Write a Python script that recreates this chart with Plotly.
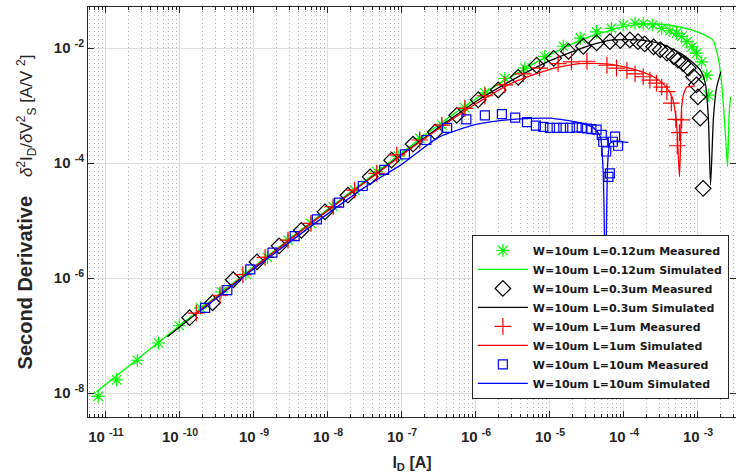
import plotly.graph_objects as go

# ---- data (log10 of I_D [A], log10 of second derivative) ----
g_meas_x = [-11.105, -10.856, -10.577, -10.29, -10.01, -9.72, -9.44, -9.11, -8.82, -8.54, -8.23, -7.93, -7.64, -7.34, -7.05, -6.76, -6.46, -6.15, -5.88, -5.61, -5.34, -5.07, -4.82, -4.59, -4.37, -4.17, -4.01, -3.85, -3.74, -3.61, -3.49, -3.38, -3.29, -3.22, -3.15, -3.08, -3.02, -2.95, -2.88, -2.86]
g_meas_y = [-8.06, -7.77, -7.43, -7.13, -6.83, -6.52, -6.24, -5.93, -5.64, -5.34, -5.05, -4.76, -4.47, -4.15, -3.88, -3.57, -3.34, -3.04, -2.78, -2.53, -2.35, -2.15, -1.97, -1.83, -1.72, -1.66, -1.60, -1.57, -1.58, -1.60, -1.66, -1.70, -1.74, -1.80, -1.89, -1.98, -2.09, -2.24, -2.47, -2.82]
g_sim_x = [-11.13, -10.0, -9.0, -8.0, -7.0, -6.5, -6.0, -5.5, -5.0, -4.5, -4.0, -3.7, -3.4, -3.1, -2.9, -2.80, -2.73, -2.68, -2.63, -2.60, -2.58, -2.56]
g_sim_y = [-7.98, -6.82, -5.80, -4.80, -3.82, -3.33, -2.88, -2.48, -2.12, -1.82, -1.63, -1.58, -1.60, -1.68, -1.78, -1.86, -2.15, -2.61, -3.48, -4.06, -3.19, -2.85]

k_meas_x = [-9.87, -9.56, -9.28, -8.96, -8.66, -8.36, -8.04, -7.73, -7.43, -7.14, -6.85, -6.55, -6.26, -5.97, -5.70, -5.43, -5.18, -4.95, -4.75, -4.55, -4.37, -4.19, -4.05, -3.92, -3.81, -3.72, -3.60, -3.51, -3.42, -3.33, -3.27, -3.20, -3.13, -3.06, -3.02, -3.00, -2.97, -2.93]
k_meas_y = [-6.69, -6.43, -6.03, -5.72, -5.44, -5.17, -4.85, -4.56, -4.24, -3.95, -3.67, -3.46, -3.17, -2.90, -2.73, -2.51, -2.30, -2.18, -2.06, -1.97, -1.91, -1.89, -1.87, -1.86, -1.89, -1.93, -1.98, -2.03, -2.09, -2.15, -2.21, -2.27, -2.35, -2.50, -2.64, -2.85, -3.22, -4.44]
k_sim_x = [-10.17, -9.0, -8.0, -7.0, -6.5, -6.0, -5.5, -5.0, -4.5, -4.15, -3.8, -3.5, -3.24, -3.1, -2.97, -2.90, -2.86, -2.83, -2.79, -2.75, -2.69]
k_sim_y = [-7.02, -5.82, -4.82, -3.85, -3.38, -2.93, -2.55, -2.22, -1.97, -1.86, -1.86, -1.93, -2.09, -2.22, -2.38, -2.62, -3.2, -4.38, -3.2, -2.7, -2.41]

r_meas_x = [-9.78, -9.46, -9.15, -8.85, -8.54, -8.23, -7.93, -7.64, -7.34, -7.07, -6.76, -6.46, -6.15, -5.88, -5.61, -5.36, -5.14, -4.89, -4.71, -4.50, -4.23, -4.10, -3.96, -3.85, -3.74, -3.65, -3.56, -3.49, -3.42, -3.36, -3.30, -3.25, -3.28, -3.22]
r_meas_y = [-6.61, -6.30, -5.94, -5.64, -5.34, -5.05, -4.76, -4.47, -4.18, -3.86, -3.60, -3.34, -3.05, -2.83, -2.64, -2.45, -2.35, -2.27, -2.24, -2.23, -2.30, -2.35, -2.39, -2.45, -2.50, -2.56, -2.61, -2.68, -2.76, -2.96, -3.24, -3.47, -3.70, -3.25]
r_sim_x = [-9.8, -9.0, -8.0, -7.0, -6.5, -6.0, -5.5, -5.0, -4.6, -4.2, -3.9, -3.6, -3.45, -3.35, -3.29, -3.25, -3.22, -3.19, -3.15, -3.10, -3.04]
r_sim_y = [-6.63, -5.82, -4.82, -3.86, -3.40, -2.97, -2.60, -2.37, -2.27, -2.28, -2.36, -2.50, -2.65, -2.85, -3.3, -4.24, -3.02, -2.79, -2.68, -2.67, -2.66]

b_meas_x = [-9.66, -9.36, -9.05, -8.75, -8.45, -8.15, -7.85, -7.53, -7.24, -6.96, -6.67, -6.39, -6.13, -5.88, -5.65, -5.47, -5.31, -5.19, -5.09, -5.00, -4.91, -4.82, -4.73, -4.64, -4.57, -4.50, -4.44, -4.37, -4.30, -4.28, -4.24, -4.19, -4.21, -4.15, -4.12, -4.08]
b_meas_y = [-6.52, -6.21, -5.85, -5.56, -5.27, -4.98, -4.69, -4.40, -4.12, -3.85, -3.60, -3.39, -3.24, -3.17, -3.15, -3.21, -3.29, -3.35, -3.37, -3.39, -3.39, -3.39, -3.39, -3.38, -3.39, -3.40, -3.41, -3.42, -3.51, -3.63, -3.80, -4.18, -4.24, -3.63, -3.54, -3.70]
b_sim_x = [-9.7, -9.0, -8.0, -7.5, -7.0, -6.5, -6.0, -5.5, -5.0, -4.6, -4.42, -4.32, -4.28, -4.25, -4.22, -4.19, -4.14, -3.94]
b_sim_y = [-6.55, -5.84, -4.88, -4.42, -4.02, -3.55, -3.33, -3.24, -3.22, -3.30, -3.38, -3.54, -4.2, -6.2, -4.0, -3.66, -3.63, -3.64]

series_names = [
    "W=10um L=0.12um Measured", "W=10um L=0.12um Simulated",
    "W=10um L=0.3um Measured", "W=10um L=0.3um Simulated",
    "W=10um L=1um Measured", "W=10um L=1um Simulated",
    "W=10um L=10um Measured", "W=10um L=10um Simulated",
]

x_tick_vals = [1e-11, 1e-10, 1e-9, 1e-8, 1e-7, 1e-6, 1e-5, 1e-4, 1e-3]
x_tick_text = ["10\u00a0<sup>-11</sup>", "10\u00a0<sup>-10</sup>", "10\u00a0<sup>-9</sup>", "10\u00a0<sup>-8</sup>",
               "10\u00a0<sup>-7</sup>", "10\u00a0<sup>-6</sup>", "10\u00a0<sup>-5</sup>", "10\u00a0<sup>-4</sup>",
               "10\u00a0<sup>-3</sup>"]
y_tick_vals = [1e-8, 1e-6, 1e-4, 1e-2]
y_tick_text = ["10\u00a0<sup>-8</sup>", "10\u00a0<sup>-6</sup>", "10\u00a0<sup>-4</sup>", "10\u00a0<sup>-2</sup>"]


def p(v):
    return [10 ** t for t in v]


GREEN, BLACK, RED, BLUE = "#00ff00", "#000000", "#ff0000", "#0000ff"

fig = go.Figure()
fig.add_trace(go.Scatter(x=p(g_meas_x), y=p(g_meas_y), mode="markers", name=series_names[0],
                         marker=dict(symbol="asterisk-open", size=11, color=GREEN, line=dict(color=GREEN, width=1.2))))
fig.add_trace(go.Scatter(x=p(g_sim_x), y=p(g_sim_y), mode="lines", name=series_names[1],
                         line=dict(color=GREEN, width=1.3, shape="spline", smoothing=0.6)))
fig.add_trace(go.Scatter(x=p(k_meas_x), y=p(k_meas_y), mode="markers", name=series_names[2],
                         marker=dict(symbol="diamond-open", size=12, color=BLACK, line=dict(color=BLACK, width=1.2))))
fig.add_trace(go.Scatter(x=p(k_sim_x), y=p(k_sim_y), mode="lines", name=series_names[3],
                         line=dict(color=BLACK, width=1.3, shape="spline", smoothing=0.6)))
fig.add_trace(go.Scatter(x=p(r_meas_x), y=p(r_meas_y), mode="markers", name=series_names[4],
                         marker=dict(symbol="cross-thin-open", size=12, color=RED, line=dict(color=RED, width=1.2))))
fig.add_trace(go.Scatter(x=p(r_sim_x), y=p(r_sim_y), mode="lines", name=series_names[5],
                         line=dict(color=RED, width=1.3, shape="spline", smoothing=0.6)))
fig.add_trace(go.Scatter(x=p(b_meas_x), y=p(b_meas_y), mode="markers", name=series_names[6],
                         marker=dict(symbol="square-open", size=9, color=BLUE, line=dict(color=BLUE, width=1.2))))
fig.add_trace(go.Scatter(x=p(b_sim_x), y=p(b_sim_y), mode="lines", name=series_names[7],
                         line=dict(color=BLUE, width=1.3, shape="spline", smoothing=0.6)))

AX = "#262626"
fig.update_layout(
    width=736, height=474,
    margin=dict(l=88, r=0, t=7, b=57),
    paper_bgcolor="white", plot_bgcolor="white",
    font=dict(family="Liberation Sans, Arial, sans-serif", color=AX, size=14),
    showlegend=True,
    legend=dict(x=0.989, y=0.044, xanchor="right", yanchor="bottom",
                bgcolor="white", bordercolor="#262626", borderwidth=1,
                font=dict(family="DejaVu Sans, sans-serif", size=11, weight="bold", color="#1a1a1a"),
                itemwidth=50, tracegroupgap=0),
)
fig.update_xaxes(
    type="log", range=[-11.243, -2.486], automargin=False,
    tickvals=x_tick_vals, ticktext=x_tick_text,
    tickfont=dict(size=15, weight="bold"), ticklabelstandoff=6,
    ticks="inside", ticklen=6, tickcolor=AX, showline=True, linecolor=AX, linewidth=1, mirror="ticks",
    showgrid=True, gridcolor="#dddddd", gridwidth=1, zeroline=False,
    minor=dict(dtick="D1", ticks="inside", ticklen=3, tickcolor=AX, showgrid=True,
               gridcolor="#b4b4b4", griddash="1px,3px", gridwidth=1),
    title=dict(text="<b>I<sub>D</sub> [A]</b>", font=dict(size=16), standoff=12),
)
fig.update_yaxes(
    type="log", range=[-8.417, -1.287], automargin=False,
    tickvals=y_tick_vals, ticktext=y_tick_text,
    tickfont=dict(size=15, weight="bold"),
    ticks="inside", ticklen=6, tickcolor=AX, showline=True, linecolor=AX, linewidth=1, mirror="ticks",
    showgrid=True, gridcolor="#dddddd", gridwidth=1, zeroline=False,
    title=dict(text="<b><span style=\"font-size:20px\">Second Derivative</span></b>    <i>δ</i><sup>2</sup>I<sub>D</sub>/<i>δ</i>V<sup>2</sup><sub>S</sub> [A/V <sup>2</sup>]",
               font=dict(size=17), standoff=16),
)

fig.write_html("out.html", config={"displayModeBar": False},
               post_script="document.body.style.margin='0';document.body.style.padding='0';")
